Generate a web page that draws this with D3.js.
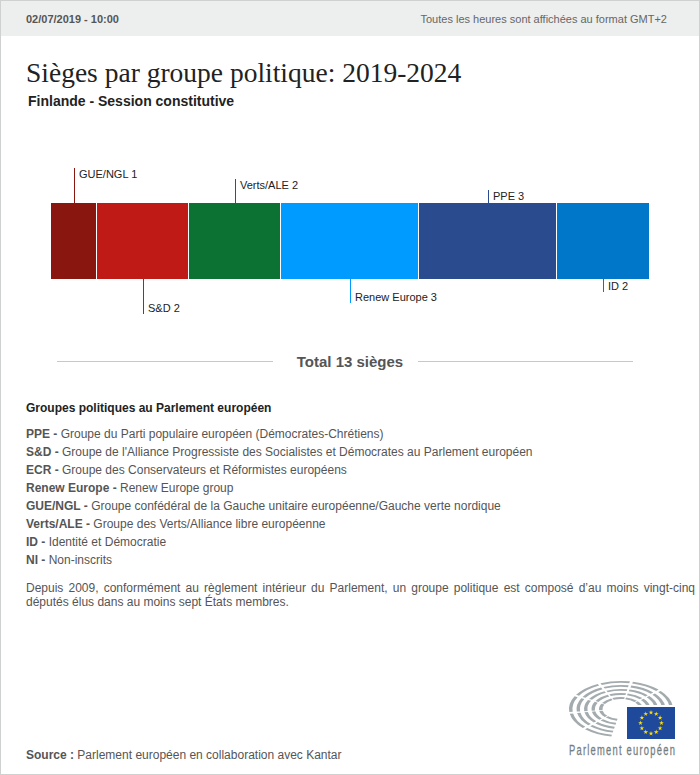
<!DOCTYPE html>
<html>
<head>
<meta charset="utf-8">
<script src="https://cdn.jsdelivr.net/npm/d3@7"></script>
<style>
html, body { margin: 0; padding: 0; background: #fff; }
svg { display: block; }
text { font-family: "Liberation Sans", Arial, sans-serif; }
</style>
</head>
<body>
<script>
const groups = ["GUE/NGL", "S&D", "Verts/ALE", "Renew Europe", "PPE", "ID"];
const seats = [1, 2, 2, 3, 3, 2];
const groupColors = ["#8a1610", "#c01a17", "#0b7233", "#009bff", "#2b4b8f", "#0077c8"];

const legendNames = ["PPE", "S&D", "ECR", "Renew Europe", "GUE/NGL", "Verts/ALE", "ID", "NI"];
const legendTexts = [
    "Groupe du Parti populaire européen (Démocrates-Chrétiens)",
    "Groupe de l'Alliance Progressiste des Socialistes et Démocrates au Parlement européen",
    "Groupe des Conservateurs et Réformistes européens",
    "Renew Europe group",
    "Groupe confédéral de la Gauche unitaire européenne/Gauche verte nordique",
    "Groupe des Verts/Alliance libre européenne",
    "Identité et Démocratie",
    "Non-inscrits"
];
const noteLines = [
    "Depuis 2009, conformément au règlement intérieur du Parlement, un groupe politique est composé d’au moins vingt-cinq",
    "députés élus dans au moins sept États membres."
];

const width = 700;
const height = 775;
const barTop = 203;
const barBottom = 279;
// how far each label's stem sticks out of the bar, negative = upwards
const stems = [-35, 35, -24, 24, -13, 13];

const svg = d3.select("body").append("svg")
    .attr("width", width)
    .attr("height", height)
    .attr("viewBox", [0, 0, width, height]);

// frame and header
svg.append("rect").attr("x", 0.5).attr("y", 0.5).attr("width", width - 1).attr("height", 35.5)
    .attr("fill", "#edefef");
svg.append("rect").attr("x", 0.5).attr("y", 0.5).attr("width", width - 1).attr("height", height - 1)
    .attr("fill", "none").attr("stroke", "#cfd1d1");

svg.append("text").attr("x", 26).attr("y", 23)
    .attr("font-size", 11).attr("font-weight", "bold").attr("fill", "#555")
    .text("02/07/2019 - 10:00");
svg.append("text").attr("x", 667).attr("y", 23).attr("text-anchor", "end")
    .attr("font-size", 11).attr("fill", "#666")
    .text("Toutes les heures sont affichées au format GMT+2");

svg.append("text").attr("x", 26).attr("y", 82)
    .style("font-family", "'Liberation Serif', serif")
    .attr("font-size", 27.5).attr("fill", "#222")
    .text("Sièges par groupe politique: 2019-2024");
svg.append("text").attr("x", 28).attr("y", 106)
    .attr("font-size", 14).attr("font-weight", "bold").attr("fill", "#222")
    .text("Finlande - Session constitutive");

// stacked bar
const x = d3.scaleLinear().domain([0, d3.sum(seats)]).range([51, 649]);
const color = d3.scaleOrdinal().domain(groups).range(groupColors);
const stacked = groups.map((g, i) => ({
    name: g,
    seats: seats[i],
    stem: stems[i],
    start: d3.sum(seats.slice(0, i)),
    end: d3.sum(seats.slice(0, i + 1))
}));

svg.append("g").selectAll("rect")
    .data(stacked)
    .join("rect")
    .attr("x", d => x(d.start))
    .attr("y", barTop)
    .attr("width", d => x(d.end) - x(d.start))
    .attr("height", barBottom - barTop)
    .attr("fill", d => color(d.name));

// white separators
svg.append("g").selectAll("line")
    .data(stacked.slice(1))
    .join("line")
    .attr("x1", d => x(d.start) - 0.5)
    .attr("x2", d => x(d.start) - 0.5)
    .attr("y1", barTop)
    .attr("y2", barBottom)
    .attr("stroke", "#fff");

const labels = svg.append("g").selectAll("g")
    .data(stacked)
    .join("g")
    .attr("transform", d => `translate(${Math.round(x((d.start + d.end) / 2)) + 0.5},0)`);

labels.append("line")
    .attr("y1", d => d.stem < 0 ? barTop : barBottom)
    .attr("y2", d => (d.stem < 0 ? barTop : barBottom) + d.stem)
    .attr("stroke", d => color(d.name));

labels.append("text")
    .attr("x", 4.5)
    .attr("y", d => d.stem < 0 ? barTop + d.stem + 10 : barBottom + d.stem - 2)
    .attr("font-size", 11)
    .attr("fill", "#222")
    .text(d => `${d.name} ${d.seats}`);

// total
const totalY = 362;
svg.selectAll("line.total")
    .data([[57, 273], [418, 633]])
    .join("line")
    .attr("class", "total")
    .attr("x1", d => d[0])
    .attr("x2", d => d[1])
    .attr("y1", totalY - 0.5)
    .attr("y2", totalY - 0.5)
    .attr("stroke", "#c8c8c8");
svg.append("text").attr("x", 350).attr("y", totalY + 5).attr("text-anchor", "middle")
    .attr("font-size", 15).attr("font-weight", "bold").attr("fill", "#555")
    .text(`Total ${d3.sum(seats)} sièges`);

// legend
svg.append("text").attr("x", 26).attr("y", 412)
    .attr("font-size", 12).attr("font-weight", "bold").attr("fill", "#222")
    .text("Groupes politiques au Parlement européen");

const legend = svg.append("g").selectAll("text")
    .data(legendNames)
    .join("text")
    .attr("x", 26)
    .attr("y", (d, i) => 438 + i * 18)
    .attr("font-size", 12)
    .attr("fill", "#555");
legend.append("tspan").attr("font-weight", "bold").text(d => d + " - ");
legend.append("tspan").text((d, i) => legendTexts[i]);

// first line of the note is justified in the original
svg.append("g").selectAll("text")
    .data(noteLines)
    .join("text")
    .attr("x", 26)
    .attr("y", (d, i) => 592 + i * 14)
    .attr("font-size", 12)
    .attr("word-spacing", (d, i) => i === 0 ? 1.82 : 0)
    .attr("fill", "#555")
    .text(d => d);

const source = svg.append("text").attr("x", 26).attr("y", 759)
    .attr("font-size", 12).attr("fill", "#555");
source.append("tspan").attr("font-weight", "bold").text("Source : ");
source.append("tspan").text("Parlement européen en collaboration avec Kantar");

// parliament logo: hemicycle rings, flag, wordmark
const logo = svg.append("g");
const rings = logo.append("g")
    .attr("transform", "translate(621,709) scale(1,0.54)")
    .attr("fill", "#a3abae");
const ringArc = d3.arc();
d3.range(5).forEach(r => {
    const outer = 52 - r * 7.5;
    const parts = 7;
    const step = (Math.PI * 1.42) / parts;
    d3.range(parts).forEach(p => {
        const a0 = -Math.PI * 0.95 + p * step;
        rings.append("path").attr("d", ringArc({
            innerRadius: outer - 3.4,
            outerRadius: outer,
            startAngle: a0 + 0.03,
            endAngle: a0 + step - 0.03
        }));
    });
});

logo.append("rect").attr("x", 625).attr("y", 705).attr("width", 52).attr("height", 36).attr("fill", "#fff");
logo.append("rect").attr("x", 627).attr("y", 707).attr("width", 48).attr("height", 32).attr("fill", "#1f4a9c");
logo.append("g").selectAll("path")
    .data(d3.range(12))
    .join("path")
    .attr("d", d3.symbol(d3.symbolStar, 7))
    .attr("fill", "#ffdd00")
    .attr("transform", d => {
        const a = d * Math.PI / 6;
        return `translate(${651 + 10.5 * Math.sin(a)},${723 - 10.5 * Math.cos(a)})`;
    });

logo.append("text")
    .attr("transform", "translate(569,755) scale(0.72,1.15)")
    .attr("font-size", 13)
    .attr("fill", "#747e82")
    .attr("stroke", "#747e82")
    .attr("stroke-width", 0.25)
    .attr("textLength", 147)
    .text("Parlement européen");
</script>
</body>
</html>
